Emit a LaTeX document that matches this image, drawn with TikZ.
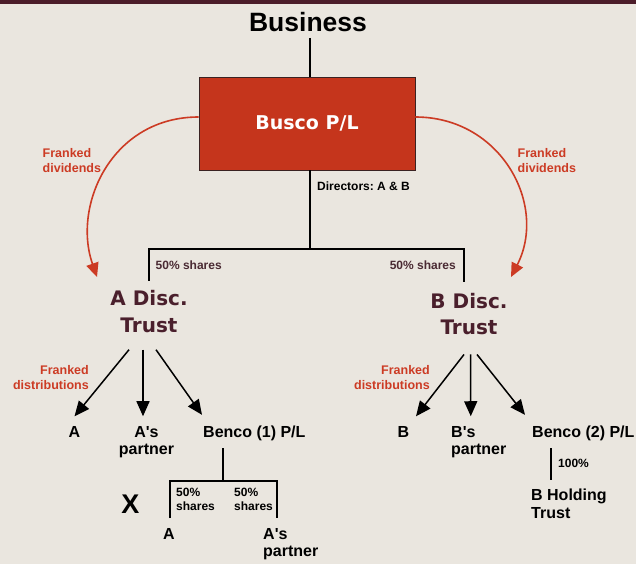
\documentclass[tikz,border=0pt]{standalone}
\usepackage{fontspec}
\setmainfont{Liberation Sans}[Ligatures=TeXOff]
\newfontfamily\verdfont{DejaVu Sans}
\usetikzlibrary{arrows.meta}

\definecolor{bgcol}{HTML}{EAE6DF}
\definecolor{barcol}{HTML}{4B1C29}
\definecolor{buscored}{HTML}{C5351C}
\definecolor{boxedge}{HTML}{3A2222}
\definecolor{frankred}{HTML}{CC3B24}
\definecolor{trustcol}{HTML}{4A1F2C}
\definecolor{sharecol}{HTML}{4A2A33}

\tikzset{
  lab/.style={inner sep=0pt, font=\bfseries\fontsize{12}{14}\selectfont},
  redlab/.style={inner sep=0pt, text=frankred, font=\bfseries\fontsize{12.5}{15}\selectfont},
  ent/.style={inner sep=0pt, font=\bfseries\fontsize{16}{17}\selectfont},
  trust/.style={inner sep=0pt, align=center, text=trustcol,
    font=\verdfont\bfseries\fontsize{20}{26.5}\selectfont},
  tree/.style={line width=1.3pt, draw=black},
  blkarrow/.style={line width=1.5pt, -{Triangle[length=15pt,width=13pt]}},
  redarrow/.style={line width=1.6pt, draw=frankred,
    -{Triangle[length=14pt,width=12.5pt,fill=frankred]}}
}

\begin{document}
\frenchspacing
\begin{tikzpicture}[x=1pt,y=-1pt]
  % canvas and top band
  \fill[bgcol] (0,0) rectangle (636,564);
  \useasboundingbox (0,0) rectangle (636,564);
  \fill[barcol] (0,0) rectangle (636,4);

  % head of the structure
  \node[inner sep=0pt, font=\bfseries\fontsize{26.5}{30}\selectfont] (business) at (308,21.7) {Business};
  \node[draw=boxedge, line width=0.8pt, fill=buscored, minimum width=216pt,
        minimum height=93pt, inner sep=0pt, text=white,
        font=\verdfont\bfseries\fontsize{19}{22}\selectfont] (busco) at (307,123.5) {Busco P/L};
  \node[lab, anchor=west] (dirs) at (317,186) {Directors: A \& B};

  % the two discretionary trusts
  \node[trust] (atrust) at (149,311.5) {A Disc.\\Trust};
  \node[trust] (btrust) at (469,313.8) {B Disc.\\Trust};
  \node[lab, text=sharecol, anchor=west] (sharesA) at (155.5,265) {50\% shares};
  \node[lab, text=sharecol, anchor=east] (sharesB) at (456,265) {50\% shares};

  % ownership lines from Busco
  \coordinate (topline) at (310,38);
  \coordinate (jn) at (310,249);
  \coordinate (jlb) at ([yshift=9.5pt]atrust.north);
  \coordinate (jrb) at (464,282);
  \draw[tree] (topline) -- (busco.north -| topline);
  \draw[tree] (busco.south -| jn) -- (jn);
  \draw[tree] (jlb) -- (jlb |- jn) -- (jrb |- jn) -- (jrb);

  % franked dividends
  \coordinate (divL) at (97,277);
  \coordinate (divR) at (511,277);
  \draw[redarrow] ([yshift=6.5pt]busco.west) .. controls (112,117) and (72,205) .. (divL);
  \draw[redarrow] ([yshift=6.5pt]busco.east) .. controls (501,117) and (548,205) .. (divR);
  \node[redlab, align=left, anchor=west] (fdL) at (42.5,160.5) {Franked\\dividends};
  \node[redlab, align=left, anchor=west] (fdR) at (517.5,160.5) {Franked\\dividends};

  % beneficiaries of A Disc. Trust
  \node[ent] (aA) at (74.5,432) {A};
  \node[ent, align=center] (apart) at (146.5,442.1) {A's\\partner};
  \node[ent, anchor=west] (benco1) at (203,433.5) {Benco (1) P/L};
  \node[redlab, align=right, anchor=east] (fdistA) at (89,378) {Franked\\distributions};
  \draw[blkarrow] ([xshift=-20pt,yshift=-17pt]atrust.south) -- ([yshift=10pt]aA.north);
  \draw[blkarrow] ([xshift=-6pt,yshift=-17pt]atrust.south) -- ([xshift=-3.5pt,yshift=10pt]apart.north);
  \draw[blkarrow] ([xshift=7pt,yshift=-17pt]atrust.south) -- ([xshift=-1pt,yshift=11pt]benco1.north west);

  % beneficiaries of B Disc. Trust
  \node[ent] (bB) at (403.5,432) {B};
  \node[ent, align=left, anchor=west] (bpart) at (451,442.1) {B's\\partner};
  \node[ent, anchor=west] (benco2) at (532,433.5) {Benco (2) P/L};
  \node[redlab, align=right, anchor=east] (fdistB) at (430,378) {Franked\\distributions};
  \draw[blkarrow] ([xshift=-5pt,yshift=-19.5pt]btrust.south) -- ([xshift=12.5pt,yshift=10pt]bB.north);
  \draw[blkarrow] ([xshift=1.5pt,yshift=-19.5pt]btrust.south) -- ([xshift=-8pt,yshift=10pt]bpart.north);
  \draw[blkarrow] ([xshift=8pt,yshift=-19.5pt]btrust.south) -- ([xshift=-7pt,yshift=11pt]benco2.north west);

  % Benco (1) shareholders
  \coordinate (k1) at (223,448);
  \coordinate (k2) at (223,481);
  \coordinate (kl) at (170,518);
  \coordinate (kr) at (277,518);
  \draw[tree] (k1) -- (k2);
  \draw[tree] (kl) -- (kl |- k2) -- (kr |- k2) -- (kr);
  \node[lab, align=left, anchor=west] (sh1) at (176,499) {50\%\\shares};
  \node[lab, align=left, anchor=west] (sh2) at (234,499) {50\%\\shares};
  \node[inner sep=0pt, font=\bfseries\fontsize{27}{30}\selectfont] (xmark) at (130.5,504.5) {X};
  \node[ent] (lowA) at (169,534) {A};
  \node[ent, align=left, anchor=west] (lowpart) at (263,544.4) {A's\\partner};

  % Benco (2) holding
  \coordinate (m1) at (551,448);
  \coordinate (m2) at (551,480);
  \draw[tree] (m1) -- (m2);
  \node[lab, anchor=west] (hund) at (558,463) {100\%};
  \node[ent, align=left, anchor=west, font=\bfseries\fontsize{16}{18.3}\selectfont] (bhold) at (531,504) {B Holding\\Trust};
\end{tikzpicture}
\end{document}
